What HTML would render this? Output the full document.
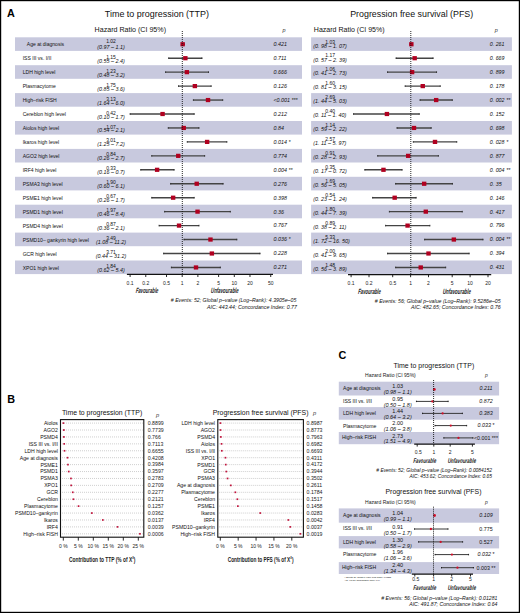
<!DOCTYPE html>
<html><head><meta charset="utf-8"><style>
html,body{margin:0;padding:0;background:#fff;}
#fig{position:relative;width:520px;height:613px;overflow:hidden;background:#fff;}
svg{position:absolute;left:0;top:0;}
text{font-family:"Liberation Sans",sans-serif;}
</style></head><body><div id="fig">
<svg width="520" height="613" viewBox="0 0 520 613">
<rect x="0" y="0" width="520" height="613" fill="#fff"/>
<text x="7.0" y="16.9" font-size="10.8" font-weight="bold" fill="#000">A</text>
<text x="7.3" y="402.5" font-size="10.8" font-weight="bold" fill="#000">B</text>
<text x="338.6" y="359.2" font-size="10.8" font-weight="bold" fill="#000">C</text>
<rect x="15.00" y="37.30" width="287.00" height="13.60" fill="#c8c9de"/>
<rect x="311.10" y="37.30" width="200.80" height="13.60" fill="#c8c9de"/>
<rect x="15.00" y="65.20" width="287.00" height="13.60" fill="#c8c9de"/>
<rect x="311.10" y="65.20" width="200.80" height="13.60" fill="#c8c9de"/>
<rect x="15.00" y="93.10" width="287.00" height="13.60" fill="#c8c9de"/>
<rect x="311.10" y="93.10" width="200.80" height="13.60" fill="#c8c9de"/>
<rect x="15.00" y="121.00" width="287.00" height="13.60" fill="#c8c9de"/>
<rect x="311.10" y="121.00" width="200.80" height="13.60" fill="#c8c9de"/>
<rect x="15.00" y="148.90" width="287.00" height="13.60" fill="#c8c9de"/>
<rect x="311.10" y="148.90" width="200.80" height="13.60" fill="#c8c9de"/>
<rect x="15.00" y="176.80" width="287.00" height="13.60" fill="#c8c9de"/>
<rect x="311.10" y="176.80" width="200.80" height="13.60" fill="#c8c9de"/>
<rect x="15.00" y="204.70" width="287.00" height="13.60" fill="#c8c9de"/>
<rect x="311.10" y="204.70" width="200.80" height="13.60" fill="#c8c9de"/>
<rect x="15.00" y="232.60" width="287.00" height="13.60" fill="#c8c9de"/>
<rect x="311.10" y="232.60" width="200.80" height="13.60" fill="#c8c9de"/>
<rect x="15.00" y="260.50" width="287.00" height="13.60" fill="#c8c9de"/>
<rect x="311.10" y="260.50" width="200.80" height="13.60" fill="#c8c9de"/>
<text x="104.8" y="16.9" font-size="9" fill="#111" textLength="104.2" lengthAdjust="spacingAndGlyphs">Time to progression (TTP)</text>
<text x="94.6" y="32.0" font-size="7.1" fill="#111" textLength="71.4" lengthAdjust="spacingAndGlyphs">Hazard Ratio (CI 95%)</text>
<text x="282.5" y="32.0" font-size="5.5" font-style="italic" fill="#333">p</text>
<text x="350.2" y="16.9" font-size="9" fill="#111" textLength="123.0" lengthAdjust="spacingAndGlyphs">Progression free survival (PFS)</text>
<text x="313.8" y="32.0" font-size="7.1" fill="#111" textLength="70.8" lengthAdjust="spacingAndGlyphs">Hazard Ratio (CI 95%)</text>
<text x="494.8" y="32.0" font-size="5.5" font-style="italic" fill="#333">p</text>
<text x="26.8" y="46.3" font-size="5.9" fill="#111" textLength="37.3" lengthAdjust="spacingAndGlyphs">Age at diagnosis</text>
<text x="111.0" y="43.0" font-size="5.4" text-anchor="middle" fill="#111" textLength="9.7" lengthAdjust="spacingAndGlyphs">1.02</text>
<text x="111.0" y="48.7" font-size="5.5" text-anchor="middle" font-style="italic" fill="#111" textLength="27.4" lengthAdjust="spacingAndGlyphs">(0.97 – 1.1)</text>
<text x="273.5" y="46.1" font-size="5.5" font-style="italic" fill="#111" textLength="13.4" lengthAdjust="spacingAndGlyphs">0.421</text>
<line x1="181.51" y1="44.25" x2="184.36" y2="44.25" stroke="#444444" stroke-width="1.4"/>
<line x1="181.51" y1="43.45" x2="181.51" y2="45.05" stroke="#222" stroke-width="0.9"/>
<line x1="184.36" y1="43.45" x2="184.36" y2="45.05" stroke="#222" stroke-width="0.9"/>
<rect x="180.45" y="42.15" width="4.40" height="4.20" fill="#b00020"/>
<text x="330.2" y="43.8" font-size="5.4" text-anchor="middle" fill="#111" textLength="9.7" lengthAdjust="spacingAndGlyphs">1.03</text>
<text x="313.2" y="47.5" font-size="5.5" font-style="italic" fill="#111" textLength="33.5" lengthAdjust="spacingAndGlyphs">(0. 98 – 1. 07)</text>
<text x="489.8" y="46.1" font-size="5.5" font-style="italic" fill="#111" textLength="14.7" lengthAdjust="spacingAndGlyphs">0. 261</text>
<line x1="410.08" y1="44.25" x2="412.35" y2="44.25" stroke="#444444" stroke-width="1.4"/>
<line x1="410.08" y1="43.45" x2="410.08" y2="45.05" stroke="#222" stroke-width="0.9"/>
<line x1="412.35" y1="43.45" x2="412.35" y2="45.05" stroke="#222" stroke-width="0.9"/>
<rect x="409.16" y="42.15" width="4.40" height="4.20" fill="#b00020"/>
<text x="22.7" y="60.2" font-size="5.9" fill="#111" textLength="28.6" lengthAdjust="spacingAndGlyphs">ISS III vs. I/II</text>
<text x="111.0" y="58.8" font-size="5.4" text-anchor="middle" fill="#111" textLength="9.7" lengthAdjust="spacingAndGlyphs">1.15</text>
<text x="111.0" y="62.6" font-size="5.5" text-anchor="middle" font-style="italic" fill="#111" textLength="27.4" lengthAdjust="spacingAndGlyphs">(0.55 – 2.4)</text>
<text x="273.5" y="60.0" font-size="5.5" font-style="italic" fill="#111" textLength="13.0" lengthAdjust="spacingAndGlyphs">0.711</text>
<line x1="168.67" y1="58.20" x2="202.01" y2="58.20" stroke="#444444" stroke-width="1.4"/>
<line x1="168.67" y1="57.40" x2="168.67" y2="59.00" stroke="#222" stroke-width="0.9"/>
<line x1="202.01" y1="57.40" x2="202.01" y2="59.00" stroke="#222" stroke-width="0.9"/>
<rect x="183.16" y="56.10" width="4.40" height="4.20" fill="#b00020"/>
<text x="330.2" y="57.2" font-size="5.4" text-anchor="middle" fill="#111" textLength="9.7" lengthAdjust="spacingAndGlyphs">1.17</text>
<text x="313.2" y="61.5" font-size="5.5" font-style="italic" fill="#111" textLength="33.5" lengthAdjust="spacingAndGlyphs">(0. 57 – 2. 39)</text>
<text x="489.8" y="60.0" font-size="5.5" font-style="italic" fill="#111" textLength="14.7" lengthAdjust="spacingAndGlyphs">0. 669</text>
<line x1="396.07" y1="58.20" x2="433.11" y2="58.20" stroke="#444444" stroke-width="1.4"/>
<line x1="396.07" y1="57.40" x2="396.07" y2="59.00" stroke="#222" stroke-width="0.9"/>
<line x1="433.11" y1="57.40" x2="433.11" y2="59.00" stroke="#222" stroke-width="0.9"/>
<rect x="412.46" y="56.10" width="4.40" height="4.20" fill="#b00020"/>
<text x="22.7" y="74.2" font-size="5.9" fill="#111" textLength="32.8" lengthAdjust="spacingAndGlyphs">LDH high level</text>
<text x="111.0" y="72.7" font-size="5.4" text-anchor="middle" fill="#111" textLength="9.7" lengthAdjust="spacingAndGlyphs">1.23</text>
<text x="111.0" y="76.6" font-size="5.5" text-anchor="middle" font-style="italic" fill="#111" textLength="27.4" lengthAdjust="spacingAndGlyphs">(0.48 – 3.2)</text>
<text x="273.5" y="74.0" font-size="5.5" font-style="italic" fill="#111" textLength="13.4" lengthAdjust="spacingAndGlyphs">0.666</text>
<line x1="165.59" y1="72.15" x2="208.52" y2="72.15" stroke="#444444" stroke-width="1.4"/>
<line x1="165.59" y1="71.35" x2="165.59" y2="72.95" stroke="#222" stroke-width="0.9"/>
<line x1="208.52" y1="71.35" x2="208.52" y2="72.95" stroke="#222" stroke-width="0.9"/>
<rect x="184.68" y="70.05" width="4.40" height="4.20" fill="#b00020"/>
<text x="330.2" y="71.2" font-size="5.4" text-anchor="middle" fill="#111" textLength="9.7" lengthAdjust="spacingAndGlyphs">1.06</text>
<text x="313.2" y="75.4" font-size="5.5" font-style="italic" fill="#111" textLength="33.5" lengthAdjust="spacingAndGlyphs">(0. 41 – 2. 73)</text>
<text x="489.8" y="74.0" font-size="5.5" font-style="italic" fill="#111" textLength="14.7" lengthAdjust="spacingAndGlyphs">0. 899</text>
<line x1="387.56" y1="72.15" x2="436.55" y2="72.15" stroke="#444444" stroke-width="1.4"/>
<line x1="387.56" y1="71.35" x2="387.56" y2="72.95" stroke="#222" stroke-width="0.9"/>
<line x1="436.55" y1="71.35" x2="436.55" y2="72.95" stroke="#222" stroke-width="0.9"/>
<rect x="409.91" y="70.05" width="4.40" height="4.20" fill="#b00020"/>
<text x="22.7" y="88.1" font-size="5.9" fill="#111" textLength="33.1" lengthAdjust="spacingAndGlyphs">Plasmacytome</text>
<text x="111.0" y="86.6" font-size="5.4" text-anchor="middle" fill="#111" textLength="9.7" lengthAdjust="spacingAndGlyphs">1.75</text>
<text x="111.0" y="90.5" font-size="5.5" text-anchor="middle" font-style="italic" fill="#111" textLength="27.4" lengthAdjust="spacingAndGlyphs">(0.85 – 3.6)</text>
<text x="273.5" y="87.9" font-size="5.5" font-style="italic" fill="#111" textLength="13.4" lengthAdjust="spacingAndGlyphs">0.126</text>
<line x1="178.52" y1="86.10" x2="211.18" y2="86.10" stroke="#444444" stroke-width="1.4"/>
<line x1="178.52" y1="85.30" x2="178.52" y2="86.90" stroke="#222" stroke-width="0.9"/>
<line x1="211.18" y1="85.30" x2="211.18" y2="86.90" stroke="#222" stroke-width="0.9"/>
<rect x="192.66" y="84.00" width="4.40" height="4.20" fill="#b00020"/>
<text x="330.2" y="85.1" font-size="5.4" text-anchor="middle" fill="#111" textLength="9.7" lengthAdjust="spacingAndGlyphs">1.60</text>
<text x="313.2" y="89.3" font-size="5.5" font-style="italic" fill="#111" textLength="33.5" lengthAdjust="spacingAndGlyphs">(0. 81 – 3. 15)</text>
<text x="489.8" y="87.9" font-size="5.5" font-style="italic" fill="#111" textLength="14.7" lengthAdjust="spacingAndGlyphs">0. 178</text>
<line x1="405.15" y1="86.10" x2="440.25" y2="86.10" stroke="#444444" stroke-width="1.4"/>
<line x1="405.15" y1="85.30" x2="405.15" y2="86.90" stroke="#222" stroke-width="0.9"/>
<line x1="440.25" y1="85.30" x2="440.25" y2="86.90" stroke="#222" stroke-width="0.9"/>
<rect x="420.55" y="84.00" width="4.40" height="4.20" fill="#b00020"/>
<text x="22.7" y="102.1" font-size="5.9" fill="#111" textLength="34.0" lengthAdjust="spacingAndGlyphs">High–risk FISH</text>
<text x="111.0" y="100.6" font-size="5.4" text-anchor="middle" fill="#111" textLength="9.7" lengthAdjust="spacingAndGlyphs">3.13</text>
<text x="111.0" y="104.5" font-size="5.5" text-anchor="middle" font-style="italic" fill="#111" textLength="27.4" lengthAdjust="spacingAndGlyphs">(1.64 – 6.0)</text>
<text x="273.5" y="101.9" font-size="5.5" font-style="italic" fill="#111" textLength="16.5" lengthAdjust="spacingAndGlyphs">&lt;0.001</text>
<text x="291.8" y="101.9" font-size="5.2" fill="#111">***</text>
<line x1="193.39" y1="100.05" x2="222.74" y2="100.05" stroke="#444444" stroke-width="1.4"/>
<line x1="193.39" y1="99.25" x2="193.39" y2="100.85" stroke="#222" stroke-width="0.9"/>
<line x1="222.74" y1="99.25" x2="222.74" y2="100.85" stroke="#222" stroke-width="0.9"/>
<rect x="205.82" y="97.95" width="4.40" height="4.20" fill="#b00020"/>
<text x="330.2" y="99.1" font-size="5.4" text-anchor="middle" fill="#111" textLength="9.7" lengthAdjust="spacingAndGlyphs">2.69</text>
<text x="313.2" y="103.3" font-size="5.5" font-style="italic" fill="#111" textLength="33.5" lengthAdjust="spacingAndGlyphs">(1. 44 – 5. 03)</text>
<text x="489.8" y="101.9" font-size="5.5" font-style="italic" fill="#111" textLength="14.7" lengthAdjust="spacingAndGlyphs">0. 002</text>
<text x="506.5" y="101.9" font-size="5.2" fill="#111">**</text>
<line x1="420.02" y1="100.05" x2="452.34" y2="100.05" stroke="#444444" stroke-width="1.4"/>
<line x1="420.02" y1="99.25" x2="420.02" y2="100.85" stroke="#222" stroke-width="0.9"/>
<line x1="452.34" y1="99.25" x2="452.34" y2="100.85" stroke="#222" stroke-width="0.9"/>
<rect x="433.97" y="97.95" width="4.40" height="4.20" fill="#b00020"/>
<text x="22.7" y="116.0" font-size="5.9" fill="#111" textLength="43.2" lengthAdjust="spacingAndGlyphs">Cereblon high level</text>
<text x="111.0" y="114.5" font-size="5.4" text-anchor="middle" fill="#111" textLength="9.7" lengthAdjust="spacingAndGlyphs">0.42</text>
<text x="111.0" y="118.5" font-size="5.5" text-anchor="middle" font-style="italic" fill="#111" textLength="27.4" lengthAdjust="spacingAndGlyphs">(0.10 – 1.7)</text>
<text x="273.5" y="115.8" font-size="5.5" font-style="italic" fill="#111" textLength="13.4" lengthAdjust="spacingAndGlyphs">0.212</text>
<line x1="130.10" y1="114.00" x2="194.21" y2="114.00" stroke="#444444" stroke-width="1.4"/>
<line x1="130.10" y1="113.20" x2="130.10" y2="114.80" stroke="#222" stroke-width="0.9"/>
<line x1="194.21" y1="113.20" x2="194.21" y2="114.80" stroke="#222" stroke-width="0.9"/>
<rect x="160.37" y="111.90" width="4.40" height="4.20" fill="#b00020"/>
<text x="330.2" y="113.0" font-size="5.4" text-anchor="middle" fill="#111" textLength="9.7" lengthAdjust="spacingAndGlyphs">0.40</text>
<text x="313.2" y="117.2" font-size="5.5" font-style="italic" fill="#111" textLength="33.1" lengthAdjust="spacingAndGlyphs">(0. 11 – 1. 40)</text>
<text x="489.8" y="115.8" font-size="5.5" font-style="italic" fill="#111" textLength="14.7" lengthAdjust="spacingAndGlyphs">0. 152</text>
<line x1="353.56" y1="114.00" x2="419.29" y2="114.00" stroke="#444444" stroke-width="1.4"/>
<line x1="353.56" y1="113.20" x2="353.56" y2="114.80" stroke="#222" stroke-width="0.9"/>
<line x1="419.29" y1="113.20" x2="419.29" y2="114.80" stroke="#222" stroke-width="0.9"/>
<rect x="384.72" y="111.90" width="4.40" height="4.20" fill="#b00020"/>
<text x="22.7" y="130.0" font-size="5.9" fill="#111" textLength="36.5" lengthAdjust="spacingAndGlyphs">Aiolos high level</text>
<text x="111.0" y="128.5" font-size="5.4" text-anchor="middle" fill="#111" textLength="9.7" lengthAdjust="spacingAndGlyphs">1.07</text>
<text x="111.0" y="132.4" font-size="5.5" text-anchor="middle" font-style="italic" fill="#111" textLength="27.4" lengthAdjust="spacingAndGlyphs">(0.54 – 2.1)</text>
<text x="273.5" y="129.8" font-size="5.5" font-style="italic" fill="#111" textLength="10.4" lengthAdjust="spacingAndGlyphs">0.84</text>
<line x1="168.26" y1="127.95" x2="198.99" y2="127.95" stroke="#444444" stroke-width="1.4"/>
<line x1="168.26" y1="127.15" x2="168.26" y2="128.75" stroke="#222" stroke-width="0.9"/>
<line x1="198.99" y1="127.15" x2="198.99" y2="128.75" stroke="#222" stroke-width="0.9"/>
<rect x="181.53" y="125.85" width="4.40" height="4.20" fill="#b00020"/>
<text x="330.2" y="127.0" font-size="5.4" text-anchor="middle" fill="#111" textLength="9.7" lengthAdjust="spacingAndGlyphs">1.14</text>
<text x="313.2" y="131.2" font-size="5.5" font-style="italic" fill="#111" textLength="33.5" lengthAdjust="spacingAndGlyphs">(0. 59 – 2. 22)</text>
<text x="489.8" y="129.8" font-size="5.5" font-style="italic" fill="#111" textLength="14.7" lengthAdjust="spacingAndGlyphs">0. 698</text>
<line x1="396.97" y1="127.95" x2="431.21" y2="127.95" stroke="#444444" stroke-width="1.4"/>
<line x1="396.97" y1="127.15" x2="396.97" y2="128.75" stroke="#222" stroke-width="0.9"/>
<line x1="431.21" y1="127.15" x2="431.21" y2="128.75" stroke="#222" stroke-width="0.9"/>
<rect x="411.79" y="125.85" width="4.40" height="4.20" fill="#b00020"/>
<text x="22.7" y="143.9" font-size="5.9" fill="#111" textLength="36.5" lengthAdjust="spacingAndGlyphs">Ikaros high level</text>
<text x="111.0" y="142.4" font-size="5.4" text-anchor="middle" fill="#111" textLength="9.7" lengthAdjust="spacingAndGlyphs">3.01</text>
<text x="111.0" y="146.3" font-size="5.5" text-anchor="middle" font-style="italic" fill="#111" textLength="27.4" lengthAdjust="spacingAndGlyphs">(1.25 – 7.2)</text>
<text x="273.5" y="143.8" font-size="5.5" font-style="italic" fill="#111" textLength="13.4" lengthAdjust="spacingAndGlyphs">0.014</text>
<text x="288.7" y="143.8" font-size="5.2" fill="#111">*</text>
<line x1="187.25" y1="141.90" x2="226.87" y2="141.90" stroke="#444444" stroke-width="1.4"/>
<line x1="187.25" y1="141.10" x2="187.25" y2="142.70" stroke="#222" stroke-width="0.9"/>
<line x1="226.87" y1="141.10" x2="226.87" y2="142.70" stroke="#222" stroke-width="0.9"/>
<rect x="204.93" y="139.80" width="4.40" height="4.20" fill="#b00020"/>
<text x="330.2" y="140.9" font-size="5.4" text-anchor="middle" fill="#111" textLength="9.7" lengthAdjust="spacingAndGlyphs">2.57</text>
<text x="313.2" y="145.1" font-size="5.5" font-style="italic" fill="#111" textLength="33.1" lengthAdjust="spacingAndGlyphs">(1. 11 – 5. 97)</text>
<text x="489.8" y="143.8" font-size="5.5" font-style="italic" fill="#111" textLength="14.7" lengthAdjust="spacingAndGlyphs">0. 028</text>
<text x="506.5" y="143.8" font-size="5.2" fill="#111">*</text>
<line x1="413.30" y1="141.90" x2="456.77" y2="141.90" stroke="#444444" stroke-width="1.4"/>
<line x1="413.30" y1="141.10" x2="413.30" y2="142.70" stroke="#222" stroke-width="0.9"/>
<line x1="456.77" y1="141.10" x2="456.77" y2="142.70" stroke="#222" stroke-width="0.9"/>
<rect x="432.79" y="139.80" width="4.40" height="4.20" fill="#b00020"/>
<text x="22.7" y="157.9" font-size="5.9" fill="#111" textLength="36.8" lengthAdjust="spacingAndGlyphs">AGO2 high level</text>
<text x="111.0" y="156.4" font-size="5.4" text-anchor="middle" fill="#111" textLength="9.7" lengthAdjust="spacingAndGlyphs">0.84</text>
<text x="111.0" y="160.3" font-size="5.5" text-anchor="middle" font-style="italic" fill="#111" textLength="27.4" lengthAdjust="spacingAndGlyphs">(0.26 – 2.7)</text>
<text x="273.5" y="157.7" font-size="5.5" font-style="italic" fill="#111" textLength="13.4" lengthAdjust="spacingAndGlyphs">0.774</text>
<line x1="151.72" y1="155.85" x2="204.67" y2="155.85" stroke="#444444" stroke-width="1.4"/>
<line x1="151.72" y1="155.05" x2="151.72" y2="156.65" stroke="#222" stroke-width="0.9"/>
<line x1="204.67" y1="155.05" x2="204.67" y2="156.65" stroke="#222" stroke-width="0.9"/>
<rect x="176.05" y="153.75" width="4.40" height="4.20" fill="#b00020"/>
<text x="330.2" y="154.9" font-size="5.4" text-anchor="middle" fill="#111" textLength="9.7" lengthAdjust="spacingAndGlyphs">0.91</text>
<text x="313.2" y="159.1" font-size="5.5" font-style="italic" fill="#111" textLength="33.5" lengthAdjust="spacingAndGlyphs">(0. 28 – 2. 93)</text>
<text x="489.8" y="157.7" font-size="5.5" font-style="italic" fill="#111" textLength="14.7" lengthAdjust="spacingAndGlyphs">0. 877</text>
<line x1="377.71" y1="155.85" x2="438.38" y2="155.85" stroke="#444444" stroke-width="1.4"/>
<line x1="377.71" y1="155.05" x2="377.71" y2="156.65" stroke="#222" stroke-width="0.9"/>
<line x1="438.38" y1="155.05" x2="438.38" y2="156.65" stroke="#222" stroke-width="0.9"/>
<rect x="405.96" y="153.75" width="4.40" height="4.20" fill="#b00020"/>
<text x="22.7" y="171.8" font-size="5.9" fill="#111" textLength="33.7" lengthAdjust="spacingAndGlyphs">IRF4 high level</text>
<text x="111.0" y="170.3" font-size="5.4" text-anchor="middle" fill="#111" textLength="9.7" lengthAdjust="spacingAndGlyphs">0.33</text>
<text x="111.0" y="174.2" font-size="5.5" text-anchor="middle" font-style="italic" fill="#111" textLength="27.4" lengthAdjust="spacingAndGlyphs">(0.16 – 0.7)</text>
<text x="273.5" y="171.7" font-size="5.5" font-style="italic" fill="#111" textLength="13.4" lengthAdjust="spacingAndGlyphs">0.004</text>
<text x="288.7" y="171.7" font-size="5.2" fill="#111">**</text>
<line x1="140.73" y1="169.80" x2="174.13" y2="169.80" stroke="#444444" stroke-width="1.4"/>
<line x1="140.73" y1="169.00" x2="140.73" y2="170.60" stroke="#222" stroke-width="0.9"/>
<line x1="174.13" y1="169.00" x2="174.13" y2="170.60" stroke="#222" stroke-width="0.9"/>
<rect x="154.91" y="167.70" width="4.40" height="4.20" fill="#b00020"/>
<text x="330.2" y="168.8" font-size="5.4" text-anchor="middle" fill="#111" textLength="9.7" lengthAdjust="spacingAndGlyphs">0.35</text>
<text x="313.2" y="173.0" font-size="5.5" font-style="italic" fill="#111" textLength="33.5" lengthAdjust="spacingAndGlyphs">(0. 17 – 0. 72)</text>
<text x="489.8" y="171.7" font-size="5.5" font-style="italic" fill="#111" textLength="14.7" lengthAdjust="spacingAndGlyphs">0. 004</text>
<text x="506.5" y="171.7" font-size="5.2" fill="#111">**</text>
<line x1="364.81" y1="169.80" x2="402.11" y2="169.80" stroke="#444444" stroke-width="1.4"/>
<line x1="364.81" y1="169.00" x2="364.81" y2="170.60" stroke="#222" stroke-width="0.9"/>
<line x1="402.11" y1="169.00" x2="402.11" y2="170.60" stroke="#222" stroke-width="0.9"/>
<rect x="381.27" y="167.70" width="4.40" height="4.20" fill="#b00020"/>
<text x="22.7" y="185.8" font-size="5.9" fill="#111" textLength="39.9" lengthAdjust="spacingAndGlyphs">PSMA3 high level</text>
<text x="111.0" y="184.3" font-size="5.4" text-anchor="middle" fill="#111" textLength="9.7" lengthAdjust="spacingAndGlyphs">1.90</text>
<text x="111.0" y="188.2" font-size="5.5" text-anchor="middle" font-style="italic" fill="#111" textLength="27.4" lengthAdjust="spacingAndGlyphs">(0.60 – 6.1)</text>
<text x="273.5" y="185.6" font-size="5.5" font-style="italic" fill="#111" textLength="13.4" lengthAdjust="spacingAndGlyphs">0.276</text>
<line x1="170.64" y1="183.75" x2="223.12" y2="183.75" stroke="#444444" stroke-width="1.4"/>
<line x1="170.64" y1="182.95" x2="170.64" y2="184.55" stroke="#222" stroke-width="0.9"/>
<line x1="223.12" y1="182.95" x2="223.12" y2="184.55" stroke="#222" stroke-width="0.9"/>
<rect x="194.52" y="181.65" width="4.40" height="4.20" fill="#b00020"/>
<text x="330.2" y="182.8" font-size="5.4" text-anchor="middle" fill="#111" textLength="9.7" lengthAdjust="spacingAndGlyphs">1.69</text>
<text x="313.2" y="187.0" font-size="5.5" font-style="italic" fill="#111" textLength="33.5" lengthAdjust="spacingAndGlyphs">(0. 56 – 5. 05)</text>
<text x="489.8" y="185.6" font-size="5.5" font-style="italic" fill="#111" textLength="11.8" lengthAdjust="spacingAndGlyphs">0. 35</text>
<line x1="395.62" y1="183.75" x2="452.45" y2="183.75" stroke="#444444" stroke-width="1.4"/>
<line x1="395.62" y1="182.95" x2="395.62" y2="184.55" stroke="#222" stroke-width="0.9"/>
<line x1="452.45" y1="182.95" x2="452.45" y2="184.55" stroke="#222" stroke-width="0.9"/>
<rect x="421.96" y="181.65" width="4.40" height="4.20" fill="#b00020"/>
<text x="22.7" y="199.8" font-size="5.9" fill="#111" textLength="39.9" lengthAdjust="spacingAndGlyphs">PSME1 high level</text>
<text x="111.0" y="198.2" font-size="5.4" text-anchor="middle" fill="#111" textLength="9.7" lengthAdjust="spacingAndGlyphs">0.67</text>
<text x="111.0" y="202.2" font-size="5.5" text-anchor="middle" font-style="italic" fill="#111" textLength="27.4" lengthAdjust="spacingAndGlyphs">(0.26 – 1.7)</text>
<text x="273.5" y="199.6" font-size="5.5" font-style="italic" fill="#111" textLength="13.4" lengthAdjust="spacingAndGlyphs">0.398</text>
<line x1="151.72" y1="197.70" x2="194.21" y2="197.70" stroke="#444444" stroke-width="1.4"/>
<line x1="151.72" y1="196.90" x2="151.72" y2="198.50" stroke="#222" stroke-width="0.9"/>
<line x1="194.21" y1="196.90" x2="194.21" y2="198.50" stroke="#222" stroke-width="0.9"/>
<rect x="170.94" y="195.60" width="4.40" height="4.20" fill="#b00020"/>
<text x="330.2" y="196.8" font-size="5.4" text-anchor="middle" fill="#111" textLength="9.7" lengthAdjust="spacingAndGlyphs">0.54</text>
<text x="313.2" y="200.9" font-size="5.5" font-style="italic" fill="#111" textLength="33.5" lengthAdjust="spacingAndGlyphs">(0. 23 – 1. 24)</text>
<text x="489.8" y="199.6" font-size="5.5" font-style="italic" fill="#111" textLength="14.7" lengthAdjust="spacingAndGlyphs">0. 146</text>
<line x1="372.62" y1="197.70" x2="416.16" y2="197.70" stroke="#444444" stroke-width="1.4"/>
<line x1="372.62" y1="196.90" x2="372.62" y2="198.50" stroke="#222" stroke-width="0.9"/>
<line x1="416.16" y1="196.90" x2="416.16" y2="198.50" stroke="#222" stroke-width="0.9"/>
<rect x="392.48" y="195.60" width="4.40" height="4.20" fill="#b00020"/>
<text x="22.7" y="213.7" font-size="5.9" fill="#111" textLength="40.1" lengthAdjust="spacingAndGlyphs">PSMD1 high level</text>
<text x="111.0" y="212.2" font-size="5.4" text-anchor="middle" fill="#111" textLength="9.7" lengthAdjust="spacingAndGlyphs">1.97</text>
<text x="111.0" y="216.1" font-size="5.5" text-anchor="middle" font-style="italic" fill="#111" textLength="27.4" lengthAdjust="spacingAndGlyphs">(0.46 – 8.4)</text>
<text x="273.5" y="213.5" font-size="5.5" font-style="italic" fill="#111" textLength="10.4" lengthAdjust="spacingAndGlyphs">0.36</text>
<line x1="164.63" y1="211.65" x2="230.35" y2="211.65" stroke="#444444" stroke-width="1.4"/>
<line x1="164.63" y1="210.85" x2="164.63" y2="212.45" stroke="#222" stroke-width="0.9"/>
<line x1="230.35" y1="210.85" x2="230.35" y2="212.45" stroke="#222" stroke-width="0.9"/>
<rect x="195.34" y="209.55" width="4.40" height="4.20" fill="#b00020"/>
<text x="330.2" y="210.7" font-size="5.4" text-anchor="middle" fill="#111" textLength="9.7" lengthAdjust="spacingAndGlyphs">1.80</text>
<text x="313.2" y="214.9" font-size="5.5" font-style="italic" fill="#111" textLength="33.5" lengthAdjust="spacingAndGlyphs">(0. 44 – 7. 39)</text>
<text x="489.8" y="213.5" font-size="5.5" font-style="italic" fill="#111" textLength="14.7" lengthAdjust="spacingAndGlyphs">0. 417</text>
<line x1="389.39" y1="211.65" x2="462.28" y2="211.65" stroke="#444444" stroke-width="1.4"/>
<line x1="389.39" y1="210.85" x2="389.39" y2="212.45" stroke="#222" stroke-width="0.9"/>
<line x1="462.28" y1="210.85" x2="462.28" y2="212.45" stroke="#222" stroke-width="0.9"/>
<rect x="423.59" y="209.55" width="4.40" height="4.20" fill="#b00020"/>
<text x="22.7" y="227.6" font-size="5.9" fill="#111" textLength="40.1" lengthAdjust="spacingAndGlyphs">PSMD4 high level</text>
<text x="111.0" y="226.1" font-size="5.4" text-anchor="middle" fill="#111" textLength="9.7" lengthAdjust="spacingAndGlyphs">0.87</text>
<text x="111.0" y="230.0" font-size="5.5" text-anchor="middle" font-style="italic" fill="#111" textLength="27.4" lengthAdjust="spacingAndGlyphs">(0.36 – 2.1)</text>
<text x="273.5" y="227.4" font-size="5.5" font-style="italic" fill="#111" textLength="13.4" lengthAdjust="spacingAndGlyphs">0.767</text>
<line x1="159.08" y1="225.60" x2="198.99" y2="225.60" stroke="#444444" stroke-width="1.4"/>
<line x1="159.08" y1="224.80" x2="159.08" y2="226.40" stroke="#222" stroke-width="0.9"/>
<line x1="198.99" y1="224.80" x2="198.99" y2="226.40" stroke="#222" stroke-width="0.9"/>
<rect x="176.85" y="223.50" width="4.40" height="4.20" fill="#b00020"/>
<text x="330.2" y="224.6" font-size="5.4" text-anchor="middle" fill="#111" textLength="9.7" lengthAdjust="spacingAndGlyphs">0.89</text>
<text x="313.2" y="228.8" font-size="5.5" font-style="italic" fill="#111" textLength="33.1" lengthAdjust="spacingAndGlyphs">(0. 38 – 2. 11)</text>
<text x="489.8" y="227.4" font-size="5.5" font-style="italic" fill="#111" textLength="14.7" lengthAdjust="spacingAndGlyphs">0. 796</text>
<line x1="385.60" y1="225.60" x2="429.89" y2="225.60" stroke="#444444" stroke-width="1.4"/>
<line x1="385.60" y1="224.80" x2="385.60" y2="226.40" stroke="#222" stroke-width="0.9"/>
<line x1="429.89" y1="224.80" x2="429.89" y2="226.40" stroke="#222" stroke-width="0.9"/>
<rect x="405.39" y="223.50" width="4.40" height="4.20" fill="#b00020"/>
<text x="22.7" y="241.6" font-size="5.9" fill="#111" textLength="66.2" lengthAdjust="spacingAndGlyphs">PSMD10– gankyrin high level</text>
<text x="111.0" y="240.1" font-size="5.4" text-anchor="middle" fill="#111" textLength="9.7" lengthAdjust="spacingAndGlyphs">3.49</text>
<text x="111.0" y="244.0" font-size="5.5" text-anchor="middle" font-style="italic" fill="#111" textLength="30.0" lengthAdjust="spacingAndGlyphs">(1.08 – 11.2)</text>
<text x="273.5" y="241.4" font-size="5.5" font-style="italic" fill="#111" textLength="13.4" lengthAdjust="spacingAndGlyphs">0.036</text>
<text x="288.7" y="241.4" font-size="5.2" fill="#111">*</text>
<line x1="183.94" y1="239.55" x2="236.86" y2="239.55" stroke="#444444" stroke-width="1.4"/>
<line x1="183.94" y1="238.75" x2="183.94" y2="240.35" stroke="#222" stroke-width="0.9"/>
<line x1="236.86" y1="238.75" x2="236.86" y2="240.35" stroke="#222" stroke-width="0.9"/>
<rect x="208.28" y="237.45" width="4.40" height="4.20" fill="#b00020"/>
<text x="330.2" y="238.6" font-size="5.4" text-anchor="middle" fill="#111" textLength="9.7" lengthAdjust="spacingAndGlyphs">5.33</text>
<text x="313.2" y="242.8" font-size="5.5" font-style="italic" fill="#111" textLength="36.5" lengthAdjust="spacingAndGlyphs">(1. 72 – 16. 50)</text>
<text x="489.8" y="241.4" font-size="5.5" font-style="italic" fill="#111" textLength="14.7" lengthAdjust="spacingAndGlyphs">0. 004</text>
<text x="506.5" y="241.4" font-size="5.2" fill="#111">**</text>
<line x1="424.61" y1="239.55" x2="483.04" y2="239.55" stroke="#444444" stroke-width="1.4"/>
<line x1="424.61" y1="238.75" x2="424.61" y2="240.35" stroke="#222" stroke-width="0.9"/>
<line x1="483.04" y1="238.75" x2="483.04" y2="240.35" stroke="#222" stroke-width="0.9"/>
<rect x="451.64" y="237.45" width="4.40" height="4.20" fill="#b00020"/>
<text x="22.7" y="255.6" font-size="5.9" fill="#111" textLength="34.0" lengthAdjust="spacingAndGlyphs">GCR high level</text>
<text x="111.0" y="254.1" font-size="5.4" text-anchor="middle" fill="#111" textLength="9.7" lengthAdjust="spacingAndGlyphs">3.71</text>
<text x="111.0" y="257.9" font-size="5.5" text-anchor="middle" font-style="italic" fill="#111" textLength="30.4" lengthAdjust="spacingAndGlyphs">(0.44 – 31.2)</text>
<text x="273.5" y="255.4" font-size="5.5" font-style="italic" fill="#111" textLength="13.4" lengthAdjust="spacingAndGlyphs">0.228</text>
<line x1="163.62" y1="253.50" x2="260.05" y2="253.50" stroke="#444444" stroke-width="1.4"/>
<line x1="163.62" y1="252.70" x2="163.62" y2="254.30" stroke="#222" stroke-width="0.9"/>
<line x1="260.05" y1="252.70" x2="260.05" y2="254.30" stroke="#222" stroke-width="0.9"/>
<rect x="209.66" y="251.40" width="4.40" height="4.20" fill="#b00020"/>
<text x="330.2" y="252.6" font-size="5.4" text-anchor="middle" fill="#111" textLength="9.7" lengthAdjust="spacingAndGlyphs">2.00</text>
<text x="313.2" y="256.8" font-size="5.5" font-style="italic" fill="#111" textLength="33.5" lengthAdjust="spacingAndGlyphs">(0. 41 – 9. 65)</text>
<text x="489.8" y="255.4" font-size="5.5" font-style="italic" fill="#111" textLength="14.7" lengthAdjust="spacingAndGlyphs">0. 394</text>
<line x1="387.56" y1="253.50" x2="469.18" y2="253.50" stroke="#444444" stroke-width="1.4"/>
<line x1="387.56" y1="252.70" x2="387.56" y2="254.30" stroke="#222" stroke-width="0.9"/>
<line x1="469.18" y1="252.70" x2="469.18" y2="254.30" stroke="#222" stroke-width="0.9"/>
<rect x="426.31" y="251.40" width="4.40" height="4.20" fill="#b00020"/>
<text x="22.7" y="269.5" font-size="5.9" fill="#111" textLength="36.2" lengthAdjust="spacingAndGlyphs">XPO1 high level</text>
<text x="111.0" y="268.0" font-size="5.4" text-anchor="middle" fill="#111" textLength="9.7" lengthAdjust="spacingAndGlyphs">1.84</text>
<text x="111.0" y="271.9" font-size="5.5" text-anchor="middle" font-style="italic" fill="#111" textLength="27.4" lengthAdjust="spacingAndGlyphs">(0.62 – 5.4)</text>
<text x="273.5" y="269.3" font-size="5.5" font-style="italic" fill="#111" textLength="13.4" lengthAdjust="spacingAndGlyphs">0.271</text>
<line x1="171.38" y1="267.45" x2="220.36" y2="267.45" stroke="#444444" stroke-width="1.4"/>
<line x1="171.38" y1="266.65" x2="171.38" y2="268.25" stroke="#222" stroke-width="0.9"/>
<line x1="220.36" y1="266.65" x2="220.36" y2="268.25" stroke="#222" stroke-width="0.9"/>
<rect x="193.80" y="265.35" width="4.40" height="4.20" fill="#b00020"/>
<text x="330.2" y="266.5" font-size="5.4" text-anchor="middle" fill="#111" textLength="9.7" lengthAdjust="spacingAndGlyphs">1.48</text>
<text x="313.2" y="270.7" font-size="5.5" font-style="italic" fill="#111" textLength="33.5" lengthAdjust="spacingAndGlyphs">(0. 56 – 3. 89)</text>
<text x="489.8" y="269.3" font-size="5.5" font-style="italic" fill="#111" textLength="14.7" lengthAdjust="spacingAndGlyphs">0. 431</text>
<line x1="395.62" y1="267.45" x2="445.70" y2="267.45" stroke="#444444" stroke-width="1.4"/>
<line x1="395.62" y1="266.65" x2="395.62" y2="268.25" stroke="#222" stroke-width="0.9"/>
<line x1="445.70" y1="266.65" x2="445.70" y2="268.25" stroke="#222" stroke-width="0.9"/>
<rect x="418.53" y="265.35" width="4.40" height="4.20" fill="#b00020"/>
<line x1="182.30" y1="31.00" x2="182.30" y2="274.00" stroke="#111" stroke-width="0.9" stroke-dasharray="1 1"/>
<line x1="410.80" y1="31.00" x2="410.80" y2="274.00" stroke="#111" stroke-width="0.9" stroke-dasharray="1 1"/>
<line x1="126.90" y1="274.40" x2="273.00" y2="274.40" stroke="#111" stroke-width="1.2"/>
<line x1="130.10" y1="274.40" x2="130.10" y2="277.00" stroke="#111" stroke-width="0.9"/>
<text x="130.1" y="284.7" font-size="5.0" text-anchor="middle" fill="#222">0.1</text>
<line x1="145.78" y1="274.40" x2="145.78" y2="277.00" stroke="#111" stroke-width="0.9"/>
<text x="145.8" y="284.7" font-size="5.0" text-anchor="middle" fill="#222">0.2</text>
<line x1="166.52" y1="274.40" x2="166.52" y2="277.00" stroke="#111" stroke-width="0.9"/>
<text x="166.5" y="284.7" font-size="5.0" text-anchor="middle" fill="#222">0.5</text>
<line x1="182.20" y1="274.40" x2="182.20" y2="277.00" stroke="#111" stroke-width="0.9"/>
<text x="182.2" y="284.7" font-size="5.0" text-anchor="middle" fill="#222">1</text>
<line x1="197.88" y1="274.40" x2="197.88" y2="277.00" stroke="#111" stroke-width="0.9"/>
<text x="197.9" y="284.7" font-size="5.0" text-anchor="middle" fill="#222">2</text>
<line x1="218.62" y1="274.40" x2="218.62" y2="277.00" stroke="#111" stroke-width="0.9"/>
<text x="218.6" y="284.7" font-size="5.0" text-anchor="middle" fill="#222">5</text>
<line x1="234.30" y1="274.40" x2="234.30" y2="277.00" stroke="#111" stroke-width="0.9"/>
<text x="234.3" y="284.7" font-size="5.0" text-anchor="middle" fill="#222">10</text>
<line x1="249.98" y1="274.40" x2="249.98" y2="277.00" stroke="#111" stroke-width="0.9"/>
<text x="250.0" y="284.7" font-size="5.0" text-anchor="middle" fill="#222">20</text>
<line x1="270.72" y1="274.40" x2="270.72" y2="277.00" stroke="#111" stroke-width="0.9"/>
<text x="270.7" y="284.7" font-size="5.0" text-anchor="middle" fill="#222">50</text>
<line x1="348.00" y1="274.60" x2="491.20" y2="274.60" stroke="#111" stroke-width="1.2"/>
<line x1="351.10" y1="274.60" x2="351.10" y2="277.20" stroke="#111" stroke-width="0.9"/>
<text x="351.1" y="284.7" font-size="5.0" text-anchor="middle" fill="#222">0.1</text>
<line x1="369.01" y1="274.60" x2="369.01" y2="277.20" stroke="#111" stroke-width="0.9"/>
<text x="369.0" y="284.7" font-size="5.0" text-anchor="middle" fill="#222">0.2</text>
<line x1="392.69" y1="274.60" x2="392.69" y2="277.20" stroke="#111" stroke-width="0.9"/>
<text x="392.7" y="284.7" font-size="5.0" text-anchor="middle" fill="#222">0.5</text>
<line x1="410.60" y1="274.60" x2="410.60" y2="277.20" stroke="#111" stroke-width="0.9"/>
<text x="410.6" y="284.7" font-size="5.0" text-anchor="middle" fill="#222">1</text>
<line x1="428.51" y1="274.60" x2="428.51" y2="277.20" stroke="#111" stroke-width="0.9"/>
<text x="428.5" y="284.7" font-size="5.0" text-anchor="middle" fill="#222">2</text>
<line x1="452.19" y1="274.60" x2="452.19" y2="277.20" stroke="#111" stroke-width="0.9"/>
<text x="452.2" y="284.7" font-size="5.0" text-anchor="middle" fill="#222">5</text>
<line x1="470.10" y1="274.60" x2="470.10" y2="277.20" stroke="#111" stroke-width="0.9"/>
<text x="470.1" y="284.7" font-size="5.0" text-anchor="middle" fill="#222">10</text>
<line x1="488.01" y1="274.60" x2="488.01" y2="277.20" stroke="#111" stroke-width="0.9"/>
<text x="488.0" y="284.7" font-size="5.0" text-anchor="middle" fill="#222">20</text>
<text transform="translate(135.40,293.40) skewX(-12)" x="0" y="0" font-size="7.6" font-weight="bold" fill="#222" textLength="22.5" lengthAdjust="spacingAndGlyphs">Favourable</text>
<text transform="translate(210.60,293.40) skewX(-12)" x="0" y="0" font-size="7.6" font-weight="bold" fill="#222" textLength="27.6" lengthAdjust="spacingAndGlyphs">Unfavourable</text>
<text transform="translate(357.70,294.20) skewX(-12)" x="0" y="0" font-size="7.6" font-weight="bold" fill="#222" textLength="22.7" lengthAdjust="spacingAndGlyphs">Favourable</text>
<text transform="translate(442.40,294.20) skewX(-12)" x="0" y="0" font-size="7.6" font-weight="bold" fill="#222" textLength="28.0" lengthAdjust="spacingAndGlyphs">Unfavourable</text>
<text x="296.3" y="301.5" font-size="5.8" text-anchor="end" font-style="italic" fill="#111" textLength="125.5" lengthAdjust="spacingAndGlyphs"># Events: 52; Global p–value (Log–Rank): 4.3905e–05</text>
<text x="297.0" y="308.6" font-size="5.8" text-anchor="end" font-style="italic" fill="#111" textLength="89.9" lengthAdjust="spacingAndGlyphs">AIC: 443.44; Concordance Index: 0.77</text>
<text x="500.6" y="302.6" font-size="5.8" text-anchor="end" font-style="italic" fill="#111" textLength="125.8" lengthAdjust="spacingAndGlyphs"># Events: 56; Global p–value (Log–Rank): 9.5286e–05</text>
<text x="500.6" y="308.6" font-size="5.8" text-anchor="end" font-style="italic" fill="#111" textLength="89.5" lengthAdjust="spacingAndGlyphs">AIC: 482.65; Concordance Index: 0.76</text>
<text x="61.9" y="414.5" font-size="7.3" fill="#111" textLength="80.3" lengthAdjust="spacingAndGlyphs">Time to progression (TTP)</text>
<text x="155.9" y="417.3" font-size="5.8" font-style="italic" fill="#444">p</text>
<line x1="62.00" y1="423.10" x2="142.80" y2="423.10" stroke="#bdbdbd" stroke-width="0.8" stroke-dasharray="0.9 1.1"/>
<rect x="62.57" y="422.25" width="1.70" height="1.70" fill="#c0143c"/>
<text x="57.9" y="425.0" font-size="5.3" text-anchor="end" fill="#111" textLength="14.0" lengthAdjust="spacingAndGlyphs">Aiolos</text>
<text x="147.8" y="424.9" font-size="5.2" fill="#222">0.8899</text>
<line x1="62.00" y1="430.02" x2="142.80" y2="430.02" stroke="#bdbdbd" stroke-width="0.8" stroke-dasharray="0.9 1.1"/>
<rect x="62.99" y="429.17" width="1.70" height="1.70" fill="#c0143c"/>
<text x="57.9" y="431.9" font-size="5.3" text-anchor="end" fill="#111" textLength="14.3" lengthAdjust="spacingAndGlyphs">AGO2</text>
<text x="147.8" y="431.8" font-size="5.2" fill="#222">0.7739</text>
<line x1="62.00" y1="436.94" x2="142.80" y2="436.94" stroke="#bdbdbd" stroke-width="0.8" stroke-dasharray="0.9 1.1"/>
<rect x="63.03" y="436.09" width="1.70" height="1.70" fill="#c0143c"/>
<text x="57.9" y="438.8" font-size="5.3" text-anchor="end" fill="#111" textLength="17.7" lengthAdjust="spacingAndGlyphs">PSMD4</text>
<text x="147.8" y="438.7" font-size="5.2" fill="#222">0.766</text>
<line x1="62.00" y1="443.86" x2="142.80" y2="443.86" stroke="#bdbdbd" stroke-width="0.8" stroke-dasharray="0.9 1.1"/>
<rect x="63.34" y="443.01" width="1.70" height="1.70" fill="#c0143c"/>
<text x="57.9" y="445.8" font-size="5.3" text-anchor="end" fill="#111" textLength="29.2" lengthAdjust="spacingAndGlyphs">ISS III vs. I/II</text>
<text x="147.8" y="445.7" font-size="5.2" fill="#222">0.7113</text>
<line x1="62.00" y1="450.78" x2="142.80" y2="450.78" stroke="#bdbdbd" stroke-width="0.8" stroke-dasharray="0.9 1.1"/>
<rect x="63.67" y="449.93" width="1.70" height="1.70" fill="#c0143c"/>
<text x="57.9" y="452.7" font-size="5.3" text-anchor="end" fill="#111" textLength="33.5" lengthAdjust="spacingAndGlyphs">LDH high level</text>
<text x="147.8" y="452.6" font-size="5.2" fill="#222">0.6655</text>
<line x1="62.00" y1="457.70" x2="142.80" y2="457.70" stroke="#bdbdbd" stroke-width="0.8" stroke-dasharray="0.9 1.1"/>
<rect x="66.67" y="456.85" width="1.70" height="1.70" fill="#c0143c"/>
<text x="57.9" y="459.6" font-size="5.3" text-anchor="end" fill="#111" textLength="38.1" lengthAdjust="spacingAndGlyphs">Age at diagnosis</text>
<text x="147.8" y="459.5" font-size="5.2" fill="#222">0.4208</text>
<line x1="62.00" y1="464.62" x2="142.80" y2="464.62" stroke="#bdbdbd" stroke-width="0.8" stroke-dasharray="0.9 1.1"/>
<rect x="67.09" y="463.77" width="1.70" height="1.70" fill="#c0143c"/>
<text x="57.9" y="466.5" font-size="5.3" text-anchor="end" fill="#111" textLength="17.5" lengthAdjust="spacingAndGlyphs">PSME1</text>
<text x="147.8" y="466.4" font-size="5.2" fill="#222">0.3984</text>
<line x1="62.00" y1="471.54" x2="142.80" y2="471.54" stroke="#bdbdbd" stroke-width="0.8" stroke-dasharray="0.9 1.1"/>
<rect x="67.91" y="470.69" width="1.70" height="1.70" fill="#c0143c"/>
<text x="57.9" y="473.4" font-size="5.3" text-anchor="end" fill="#111" textLength="17.7" lengthAdjust="spacingAndGlyphs">PSMD1</text>
<text x="147.8" y="473.3" font-size="5.2" fill="#222">0.3597</text>
<line x1="62.00" y1="478.46" x2="142.80" y2="478.46" stroke="#bdbdbd" stroke-width="0.8" stroke-dasharray="0.9 1.1"/>
<rect x="70.10" y="477.61" width="1.70" height="1.70" fill="#c0143c"/>
<text x="57.9" y="480.4" font-size="5.3" text-anchor="end" fill="#111" textLength="17.5" lengthAdjust="spacingAndGlyphs">PSMA3</text>
<text x="147.8" y="480.3" font-size="5.2" fill="#222">0.2783</text>
<line x1="62.00" y1="485.38" x2="142.80" y2="485.38" stroke="#bdbdbd" stroke-width="0.8" stroke-dasharray="0.9 1.1"/>
<rect x="70.34" y="484.53" width="1.70" height="1.70" fill="#c0143c"/>
<text x="57.9" y="487.3" font-size="5.3" text-anchor="end" fill="#111" textLength="13.7" lengthAdjust="spacingAndGlyphs">XPO1</text>
<text x="147.8" y="487.2" font-size="5.2" fill="#222">0.2709</text>
<line x1="62.00" y1="492.30" x2="142.80" y2="492.30" stroke="#bdbdbd" stroke-width="0.8" stroke-dasharray="0.9 1.1"/>
<rect x="71.92" y="491.45" width="1.70" height="1.70" fill="#c0143c"/>
<text x="57.9" y="494.2" font-size="5.3" text-anchor="end" fill="#111" textLength="11.4" lengthAdjust="spacingAndGlyphs">GCR</text>
<text x="147.8" y="494.1" font-size="5.2" fill="#222">0.2277</text>
<line x1="62.00" y1="499.22" x2="142.80" y2="499.22" stroke="#bdbdbd" stroke-width="0.8" stroke-dasharray="0.9 1.1"/>
<rect x="72.58" y="498.37" width="1.70" height="1.70" fill="#c0143c"/>
<text x="57.9" y="501.1" font-size="5.3" text-anchor="end" fill="#111" textLength="20.9" lengthAdjust="spacingAndGlyphs">Cereblon</text>
<text x="147.8" y="501.0" font-size="5.2" fill="#222">0.2121</text>
<line x1="62.00" y1="506.14" x2="142.80" y2="506.14" stroke="#bdbdbd" stroke-width="0.8" stroke-dasharray="0.9 1.1"/>
<rect x="77.71" y="505.29" width="1.70" height="1.70" fill="#c0143c"/>
<text x="57.9" y="508.0" font-size="5.3" text-anchor="end" fill="#111" textLength="33.8" lengthAdjust="spacingAndGlyphs">Plasmacytome</text>
<text x="147.8" y="507.9" font-size="5.2" fill="#222">0.1257</text>
<line x1="62.00" y1="513.06" x2="142.80" y2="513.06" stroke="#bdbdbd" stroke-width="0.8" stroke-dasharray="0.9 1.1"/>
<rect x="91.00" y="512.21" width="1.70" height="1.70" fill="#c0143c"/>
<text x="57.9" y="515.0" font-size="5.3" text-anchor="end" fill="#111" textLength="42.9" lengthAdjust="spacingAndGlyphs">PSMD10–gankyrin</text>
<text x="147.8" y="514.9" font-size="5.2" fill="#222">0.0362</text>
<line x1="62.00" y1="519.98" x2="142.80" y2="519.98" stroke="#bdbdbd" stroke-width="0.8" stroke-dasharray="0.9 1.1"/>
<rect x="101.99" y="519.13" width="1.70" height="1.70" fill="#c0143c"/>
<text x="57.9" y="521.9" font-size="5.3" text-anchor="end" fill="#111" textLength="14.0" lengthAdjust="spacingAndGlyphs">Ikaros</text>
<text x="147.8" y="521.8" font-size="5.2" fill="#222">0.0137</text>
<line x1="62.00" y1="526.90" x2="142.80" y2="526.90" stroke="#bdbdbd" stroke-width="0.8" stroke-dasharray="0.9 1.1"/>
<rect x="116.66" y="526.05" width="1.70" height="1.70" fill="#c0143c"/>
<text x="57.9" y="528.8" font-size="5.3" text-anchor="end" fill="#111" textLength="11.2" lengthAdjust="spacingAndGlyphs">IRF4</text>
<text x="147.8" y="528.7" font-size="5.2" fill="#222">0.0039</text>
<line x1="62.00" y1="533.82" x2="142.80" y2="533.82" stroke="#bdbdbd" stroke-width="0.8" stroke-dasharray="0.9 1.1"/>
<rect x="139.08" y="532.97" width="1.70" height="1.70" fill="#c0143c"/>
<text x="57.9" y="535.7" font-size="5.3" text-anchor="end" fill="#111" textLength="34.6" lengthAdjust="spacingAndGlyphs">High–risk FISH</text>
<text x="147.8" y="535.6" font-size="5.2" fill="#222">0.0006</text>
<rect x="60.50" y="419.60" width="83.30" height="117.60" fill="none" stroke="#111" stroke-width="1.1"/>
<line x1="63.30" y1="537.20" x2="63.30" y2="540.60" stroke="#111" stroke-width="0.9"/>
<text x="63.3" y="547.8" font-size="5.0" text-anchor="middle" fill="#222">0 %</text>
<line x1="78.30" y1="537.20" x2="78.30" y2="540.60" stroke="#111" stroke-width="0.9"/>
<text x="78.3" y="547.8" font-size="5.0" text-anchor="middle" fill="#222">5 %</text>
<line x1="93.30" y1="537.20" x2="93.30" y2="540.60" stroke="#111" stroke-width="0.9"/>
<text x="93.3" y="547.8" font-size="5.0" text-anchor="middle" fill="#222">10 %</text>
<line x1="108.30" y1="537.20" x2="108.30" y2="540.60" stroke="#111" stroke-width="0.9"/>
<text x="108.3" y="547.8" font-size="5.0" text-anchor="middle" fill="#222">15 %</text>
<line x1="123.30" y1="537.20" x2="123.30" y2="540.60" stroke="#111" stroke-width="0.9"/>
<text x="123.3" y="547.8" font-size="5.0" text-anchor="middle" fill="#222">20 %</text>
<line x1="138.30" y1="537.20" x2="138.30" y2="540.60" stroke="#111" stroke-width="0.9"/>
<text x="138.3" y="547.8" font-size="5.0" text-anchor="middle" fill="#222">25 %</text>
<text x="69.0" y="561.8" font-size="7.3" font-weight="bold" fill="#222" textLength="66.4" lengthAdjust="spacingAndGlyphs">Contribution to TTP (% of X²)</text>
<text x="212.7" y="414.5" font-size="7.3" fill="#111" textLength="95.8" lengthAdjust="spacingAndGlyphs">Progression free survival (PFS)</text>
<text x="312.9" y="414.7" font-size="5.8" font-style="italic" fill="#444">p</text>
<line x1="219.30" y1="423.10" x2="302.40" y2="423.10" stroke="#bdbdbd" stroke-width="0.8" stroke-dasharray="0.9 1.1"/>
<rect x="219.58" y="422.25" width="1.70" height="1.70" fill="#c0143c"/>
<text x="215.0" y="425.0" font-size="5.3" text-anchor="end" fill="#111" textLength="33.5" lengthAdjust="spacingAndGlyphs">LDH high level</text>
<text x="306.6" y="424.9" font-size="5.2" fill="#222">0.8987</text>
<line x1="219.30" y1="430.02" x2="302.40" y2="430.02" stroke="#bdbdbd" stroke-width="0.8" stroke-dasharray="0.9 1.1"/>
<rect x="219.65" y="429.17" width="1.70" height="1.70" fill="#c0143c"/>
<text x="215.0" y="431.9" font-size="5.3" text-anchor="end" fill="#111" textLength="14.3" lengthAdjust="spacingAndGlyphs">AGO2</text>
<text x="306.6" y="431.8" font-size="5.2" fill="#222">0.8773</text>
<line x1="219.30" y1="436.94" x2="302.40" y2="436.94" stroke="#bdbdbd" stroke-width="0.8" stroke-dasharray="0.9 1.1"/>
<rect x="220.00" y="436.09" width="1.70" height="1.70" fill="#c0143c"/>
<text x="215.0" y="438.8" font-size="5.3" text-anchor="end" fill="#111" textLength="17.7" lengthAdjust="spacingAndGlyphs">PSMD4</text>
<text x="306.6" y="438.7" font-size="5.2" fill="#222">0.7963</text>
<line x1="219.30" y1="443.86" x2="302.40" y2="443.86" stroke="#bdbdbd" stroke-width="0.8" stroke-dasharray="0.9 1.1"/>
<rect x="220.70" y="443.01" width="1.70" height="1.70" fill="#c0143c"/>
<text x="215.0" y="445.8" font-size="5.3" text-anchor="end" fill="#111" textLength="14.0" lengthAdjust="spacingAndGlyphs">Aiolos</text>
<text x="306.6" y="445.7" font-size="5.2" fill="#222">0.6982</text>
<line x1="219.30" y1="450.78" x2="302.40" y2="450.78" stroke="#bdbdbd" stroke-width="0.8" stroke-dasharray="0.9 1.1"/>
<rect x="220.96" y="449.93" width="1.70" height="1.70" fill="#c0143c"/>
<text x="215.0" y="452.7" font-size="5.3" text-anchor="end" fill="#111" textLength="29.2" lengthAdjust="spacingAndGlyphs">ISS III vs. I/II</text>
<text x="306.6" y="452.6" font-size="5.2" fill="#222">0.6693</text>
<line x1="219.30" y1="457.70" x2="302.40" y2="457.70" stroke="#bdbdbd" stroke-width="0.8" stroke-dasharray="0.9 1.1"/>
<rect x="224.60" y="456.85" width="1.70" height="1.70" fill="#c0143c"/>
<text x="215.0" y="459.6" font-size="5.3" text-anchor="end" fill="#111" textLength="13.7" lengthAdjust="spacingAndGlyphs">XPO1</text>
<text x="306.6" y="459.5" font-size="5.2" fill="#222">0.4311</text>
<line x1="219.30" y1="464.62" x2="302.40" y2="464.62" stroke="#bdbdbd" stroke-width="0.8" stroke-dasharray="0.9 1.1"/>
<rect x="224.92" y="463.77" width="1.70" height="1.70" fill="#c0143c"/>
<text x="215.0" y="466.5" font-size="5.3" text-anchor="end" fill="#111" textLength="17.7" lengthAdjust="spacingAndGlyphs">PSMD1</text>
<text x="306.6" y="466.4" font-size="5.2" fill="#222">0.4172</text>
<line x1="219.30" y1="471.54" x2="302.40" y2="471.54" stroke="#bdbdbd" stroke-width="0.8" stroke-dasharray="0.9 1.1"/>
<rect x="225.47" y="470.69" width="1.70" height="1.70" fill="#c0143c"/>
<text x="215.0" y="473.4" font-size="5.3" text-anchor="end" fill="#111" textLength="11.4" lengthAdjust="spacingAndGlyphs">GCR</text>
<text x="306.6" y="473.3" font-size="5.2" fill="#222">0.3944</text>
<line x1="219.30" y1="478.46" x2="302.40" y2="478.46" stroke="#bdbdbd" stroke-width="0.8" stroke-dasharray="0.9 1.1"/>
<rect x="226.70" y="477.61" width="1.70" height="1.70" fill="#c0143c"/>
<text x="215.0" y="480.4" font-size="5.3" text-anchor="end" fill="#111" textLength="17.5" lengthAdjust="spacingAndGlyphs">PSMA3</text>
<text x="306.6" y="480.3" font-size="5.2" fill="#222">0.3502</text>
<line x1="219.30" y1="485.38" x2="302.40" y2="485.38" stroke="#bdbdbd" stroke-width="0.8" stroke-dasharray="0.9 1.1"/>
<rect x="229.94" y="484.53" width="1.70" height="1.70" fill="#c0143c"/>
<text x="215.0" y="487.3" font-size="5.3" text-anchor="end" fill="#111" textLength="38.1" lengthAdjust="spacingAndGlyphs">Age at diagnosis</text>
<text x="306.6" y="487.2" font-size="5.2" fill="#222">0.2611</text>
<line x1="219.30" y1="492.30" x2="302.40" y2="492.30" stroke="#bdbdbd" stroke-width="0.8" stroke-dasharray="0.9 1.1"/>
<rect x="234.49" y="491.45" width="1.70" height="1.70" fill="#c0143c"/>
<text x="215.0" y="494.2" font-size="5.3" text-anchor="end" fill="#111" textLength="33.8" lengthAdjust="spacingAndGlyphs">Plasmacytome</text>
<text x="306.6" y="494.1" font-size="5.2" fill="#222">0.1784</text>
<line x1="219.30" y1="499.22" x2="302.40" y2="499.22" stroke="#bdbdbd" stroke-width="0.8" stroke-dasharray="0.9 1.1"/>
<rect x="236.51" y="498.37" width="1.70" height="1.70" fill="#c0143c"/>
<text x="215.0" y="501.1" font-size="5.3" text-anchor="end" fill="#111" textLength="20.9" lengthAdjust="spacingAndGlyphs">Cereblon</text>
<text x="306.6" y="501.0" font-size="5.2" fill="#222">0.1517</text>
<line x1="219.30" y1="506.14" x2="302.40" y2="506.14" stroke="#bdbdbd" stroke-width="0.8" stroke-dasharray="0.9 1.1"/>
<rect x="237.02" y="505.29" width="1.70" height="1.70" fill="#c0143c"/>
<text x="215.0" y="508.0" font-size="5.3" text-anchor="end" fill="#111" textLength="17.5" lengthAdjust="spacingAndGlyphs">PSME1</text>
<text x="306.6" y="507.9" font-size="5.2" fill="#222">0.1458</text>
<line x1="219.30" y1="513.06" x2="302.40" y2="513.06" stroke="#bdbdbd" stroke-width="0.8" stroke-dasharray="0.9 1.1"/>
<rect x="259.39" y="512.21" width="1.70" height="1.70" fill="#c0143c"/>
<text x="215.0" y="515.0" font-size="5.3" text-anchor="end" fill="#111" textLength="14.0" lengthAdjust="spacingAndGlyphs">Ikaros</text>
<text x="306.6" y="514.9" font-size="5.2" fill="#222">0.0283</text>
<line x1="219.30" y1="519.98" x2="302.40" y2="519.98" stroke="#bdbdbd" stroke-width="0.8" stroke-dasharray="0.9 1.1"/>
<rect x="287.50" y="519.13" width="1.70" height="1.70" fill="#c0143c"/>
<text x="215.0" y="521.9" font-size="5.3" text-anchor="end" fill="#111" textLength="11.2" lengthAdjust="spacingAndGlyphs">IRF4</text>
<text x="306.6" y="521.8" font-size="5.2" fill="#222">0.0042</text>
<line x1="219.30" y1="526.90" x2="302.40" y2="526.90" stroke="#bdbdbd" stroke-width="0.8" stroke-dasharray="0.9 1.1"/>
<rect x="289.41" y="526.05" width="1.70" height="1.70" fill="#c0143c"/>
<text x="215.0" y="528.8" font-size="5.3" text-anchor="end" fill="#111" textLength="42.9" lengthAdjust="spacingAndGlyphs">PSMD10–gankyrin</text>
<text x="306.6" y="528.7" font-size="5.2" fill="#222">0.0037</text>
<line x1="219.30" y1="533.82" x2="302.40" y2="533.82" stroke="#bdbdbd" stroke-width="0.8" stroke-dasharray="0.9 1.1"/>
<rect x="299.52" y="532.97" width="1.70" height="1.70" fill="#c0143c"/>
<text x="215.0" y="535.7" font-size="5.3" text-anchor="end" fill="#111" textLength="34.6" lengthAdjust="spacingAndGlyphs">High–risk FISH</text>
<text x="306.6" y="535.6" font-size="5.2" fill="#222">0.0019</text>
<rect x="217.80" y="419.60" width="85.60" height="117.60" fill="none" stroke="#111" stroke-width="1.1"/>
<line x1="220.30" y1="537.20" x2="220.30" y2="540.60" stroke="#111" stroke-width="0.9"/>
<text x="220.3" y="547.8" font-size="5.0" text-anchor="middle" fill="#222">0 %</text>
<line x1="238.18" y1="537.20" x2="238.18" y2="540.60" stroke="#111" stroke-width="0.9"/>
<text x="238.2" y="547.8" font-size="5.0" text-anchor="middle" fill="#222">5 %</text>
<line x1="256.05" y1="537.20" x2="256.05" y2="540.60" stroke="#111" stroke-width="0.9"/>
<text x="256.1" y="547.8" font-size="5.0" text-anchor="middle" fill="#222">10 %</text>
<line x1="273.93" y1="537.20" x2="273.93" y2="540.60" stroke="#111" stroke-width="0.9"/>
<text x="273.9" y="547.8" font-size="5.0" text-anchor="middle" fill="#222">15 %</text>
<line x1="291.80" y1="537.20" x2="291.80" y2="540.60" stroke="#111" stroke-width="0.9"/>
<text x="291.8" y="547.8" font-size="5.0" text-anchor="middle" fill="#222">20 %</text>
<text x="227.7" y="561.8" font-size="7.3" font-weight="bold" fill="#222" textLength="65.8" lengthAdjust="spacingAndGlyphs">Contribution to PFS (% of X²)</text>
<text x="393.5" y="368.4" font-size="7" fill="#111" textLength="80.7" lengthAdjust="spacingAndGlyphs">Time to progression (TTP)</text>
<text x="365.0" y="377.4" font-size="5.0" fill="#222" textLength="50.8" lengthAdjust="spacingAndGlyphs">Hazard Ratio (CI 95%)</text>
<text x="485.0" y="376.8" font-size="5.0" font-style="italic" fill="#333">p</text>
<rect x="338.80" y="381.70" width="160.30" height="13.80" fill="#c8c9de"/>
<rect x="338.80" y="407.10" width="160.30" height="12.60" fill="#c8c9de"/>
<rect x="338.80" y="432.00" width="160.30" height="12.20" fill="#c8c9de"/>
<text x="343.0" y="390.2" font-size="6.0" fill="#111" textLength="37.6" lengthAdjust="spacingAndGlyphs">Age at diagnosis</text>
<text x="397.7" y="388.3" font-size="5.5" text-anchor="middle" fill="#111" textLength="10.7" lengthAdjust="spacingAndGlyphs">1.03</text>
<text x="397.7" y="393.8" font-size="5.6" text-anchor="middle" font-style="italic" fill="#111" textLength="28.1" lengthAdjust="spacingAndGlyphs">(0.98 – 1.1)</text>
<text x="486.0" y="390.4" font-size="5.4" text-anchor="middle" font-style="italic" fill="#111" textLength="12.9" lengthAdjust="spacingAndGlyphs">0.211</text>
<circle cx="434.33" cy="389.40" r="1.4" fill="#d0102a"/>
<text x="343.0" y="402.6" font-size="6.0" fill="#111" textLength="28.8" lengthAdjust="spacingAndGlyphs">ISS III vs. I/II</text>
<text x="397.7" y="401.1" font-size="5.5" text-anchor="middle" fill="#111" textLength="10.7" lengthAdjust="spacingAndGlyphs">0.95</text>
<text x="397.7" y="406.6" font-size="5.6" text-anchor="middle" font-style="italic" fill="#111" textLength="28.1" lengthAdjust="spacingAndGlyphs">(0.50 – 1.8)</text>
<text x="486.0" y="403.2" font-size="5.4" text-anchor="middle" font-style="italic" fill="#111" textLength="13.3" lengthAdjust="spacingAndGlyphs">0.872</text>
<line x1="416.44" y1="401.40" x2="448.15" y2="401.40" stroke="#383838" stroke-width="1.0"/>
<line x1="416.44" y1="400.70" x2="416.44" y2="402.10" stroke="#111" stroke-width="0.9"/>
<line x1="448.15" y1="400.70" x2="448.15" y2="402.10" stroke="#111" stroke-width="0.9"/>
<circle cx="432.33" cy="401.40" r="1.15" fill="#d0102a"/>
<text x="343.0" y="414.6" font-size="6.0" fill="#111" textLength="33.0" lengthAdjust="spacingAndGlyphs">LDH high level</text>
<text x="397.7" y="413.1" font-size="5.5" text-anchor="middle" fill="#111" textLength="10.7" lengthAdjust="spacingAndGlyphs">1.44</text>
<text x="397.7" y="418.6" font-size="5.6" text-anchor="middle" font-style="italic" fill="#111" textLength="28.1" lengthAdjust="spacingAndGlyphs">(0.64 – 3.2)</text>
<text x="486.0" y="415.2" font-size="5.4" text-anchor="middle" font-style="italic" fill="#111" textLength="13.3" lengthAdjust="spacingAndGlyphs">0.383</text>
<line x1="422.55" y1="413.40" x2="462.39" y2="413.40" stroke="#383838" stroke-width="1.0"/>
<line x1="422.55" y1="412.70" x2="422.55" y2="414.10" stroke="#111" stroke-width="0.9"/>
<line x1="462.39" y1="412.70" x2="462.39" y2="414.10" stroke="#111" stroke-width="0.9"/>
<circle cx="442.63" cy="413.40" r="1.15" fill="#d0102a"/>
<text x="343.0" y="427.6" font-size="6.0" fill="#111" textLength="33.3" lengthAdjust="spacingAndGlyphs">Plasmacytome</text>
<text x="397.7" y="425.3" font-size="5.5" text-anchor="middle" fill="#111" textLength="10.7" lengthAdjust="spacingAndGlyphs">2.00</text>
<text x="397.7" y="430.8" font-size="5.6" text-anchor="middle" font-style="italic" fill="#111" textLength="28.1" lengthAdjust="spacingAndGlyphs">(1.06 – 3.8)</text>
<text x="486.0" y="427.4" font-size="5.4" text-anchor="middle" font-style="italic" fill="#111" textLength="16.8" lengthAdjust="spacingAndGlyphs">0.033 *</text>
<line x1="435.04" y1="425.60" x2="466.65" y2="425.60" stroke="#383838" stroke-width="1.0"/>
<line x1="435.04" y1="424.90" x2="435.04" y2="426.30" stroke="#111" stroke-width="0.9"/>
<line x1="466.65" y1="424.90" x2="466.65" y2="426.30" stroke="#111" stroke-width="0.9"/>
<circle cx="450.76" cy="425.60" r="1.15" fill="#d0102a"/>
<text x="341.9" y="439.4" font-size="6.0" fill="#111" textLength="34.2" lengthAdjust="spacingAndGlyphs">High–risk FISH</text>
<text x="397.7" y="437.6" font-size="5.5" text-anchor="middle" fill="#111" textLength="10.7" lengthAdjust="spacingAndGlyphs">2.73</text>
<text x="397.7" y="443.1" font-size="5.6" text-anchor="middle" font-style="italic" fill="#111" textLength="28.1" lengthAdjust="spacingAndGlyphs">(1.51 – 4.9)</text>
<text x="486.0" y="439.7" font-size="5.4" text-anchor="middle" fill="#111" textLength="24.0" lengthAdjust="spacingAndGlyphs">&lt;0.001 ***</text>
<line x1="443.80" y1="437.90" x2="472.94" y2="437.90" stroke="#383838" stroke-width="1.0"/>
<line x1="443.80" y1="437.20" x2="443.80" y2="438.60" stroke="#111" stroke-width="0.9"/>
<line x1="472.94" y1="437.20" x2="472.94" y2="438.60" stroke="#111" stroke-width="0.9"/>
<circle cx="458.46" cy="437.90" r="1.15" fill="#d0102a"/>
<line x1="433.60" y1="380.00" x2="433.60" y2="444.20" stroke="#111" stroke-width="0.9" stroke-dasharray="1 1"/>
<line x1="414.20" y1="444.20" x2="474.90" y2="444.20" stroke="#111" stroke-width="1.2"/>
<line x1="417.20" y1="444.20" x2="417.20" y2="446.60" stroke="#111" stroke-width="0.9"/>
<text x="418.2" y="454.3" font-size="5.0" text-anchor="middle" fill="#222">0.5</text>
<line x1="433.80" y1="444.20" x2="433.80" y2="446.60" stroke="#111" stroke-width="0.9"/>
<text x="433.8" y="454.3" font-size="5.0" text-anchor="middle" fill="#222">1</text>
<line x1="450.20" y1="444.20" x2="450.20" y2="446.60" stroke="#111" stroke-width="0.9"/>
<text x="450.2" y="454.3" font-size="5.0" text-anchor="middle" fill="#222">2</text>
<line x1="472.40" y1="444.20" x2="472.40" y2="446.60" stroke="#111" stroke-width="0.9"/>
<text x="472.4" y="454.3" font-size="5.0" text-anchor="middle" fill="#222">5</text>
<text transform="translate(412.90,463.00) skewX(-12)" x="0" y="0" font-size="6.8" font-weight="bold" fill="#222" textLength="23.0" lengthAdjust="spacingAndGlyphs">Favourable</text>
<text transform="translate(447.40,463.00) skewX(-12)" x="0" y="0" font-size="6.8" font-weight="bold" fill="#222" textLength="28.3" lengthAdjust="spacingAndGlyphs">Unfavourable</text>
<text x="492.0" y="471.7" font-size="5.5" text-anchor="end" font-style="italic" fill="#111" textLength="115.7" lengthAdjust="spacingAndGlyphs"># Events: 52; Global p–value (Log–Rank): 0.0084152</text>
<text x="492.0" y="478.0" font-size="5.5" text-anchor="end" font-style="italic" fill="#111" textLength="82.5" lengthAdjust="spacingAndGlyphs">AIC: 453.62; Concordance Index: 0.65</text>
<text x="385.5" y="494.0" font-size="7" fill="#111" textLength="96.0" lengthAdjust="spacingAndGlyphs">Progression free survival (PFS)</text>
<text x="365.0" y="503.5" font-size="5.0" fill="#222" textLength="50.8" lengthAdjust="spacingAndGlyphs">Hazard Ratio (CI 95%)</text>
<text x="485.0" y="504.3" font-size="5.0" font-style="italic" fill="#333">p</text>
<rect x="338.80" y="508.40" width="160.30" height="14.30" fill="#c8c9de"/>
<rect x="338.80" y="536.10" width="160.30" height="12.30" fill="#c8c9de"/>
<rect x="338.80" y="562.10" width="160.30" height="11.90" fill="#c8c9de"/>
<text x="343.0" y="517.2" font-size="6.0" fill="#111" textLength="37.6" lengthAdjust="spacingAndGlyphs">Age at diagnosis</text>
<text x="397.7" y="515.2" font-size="5.5" text-anchor="middle" fill="#111" textLength="10.7" lengthAdjust="spacingAndGlyphs">1.04</text>
<text x="397.7" y="521.2" font-size="5.6" text-anchor="middle" font-style="italic" fill="#111" textLength="28.1" lengthAdjust="spacingAndGlyphs">(0.99 – 1.1)</text>
<text x="486.0" y="517.3" font-size="5.4" text-anchor="middle" font-style="italic" fill="#111" textLength="13.3" lengthAdjust="spacingAndGlyphs">0.109</text>
<circle cx="434.57" cy="515.50" r="1.4" fill="#d0102a"/>
<text x="343.0" y="530.1" font-size="6.0" fill="#111" textLength="28.8" lengthAdjust="spacingAndGlyphs">ISS III vs. I/II</text>
<text x="397.7" y="528.7" font-size="5.5" text-anchor="middle" fill="#111" textLength="10.7" lengthAdjust="spacingAndGlyphs">0.91</text>
<text x="397.7" y="534.7" font-size="5.6" text-anchor="middle" font-style="italic" fill="#111" textLength="28.1" lengthAdjust="spacingAndGlyphs">(0.50 – 1.7)</text>
<text x="486.0" y="530.8" font-size="5.4" text-anchor="middle" fill="#111" textLength="13.3" lengthAdjust="spacingAndGlyphs">0.775</text>
<line x1="414.54" y1="529.00" x2="448.02" y2="529.00" stroke="#383838" stroke-width="1.0"/>
<line x1="414.54" y1="528.30" x2="414.54" y2="529.70" stroke="#111" stroke-width="0.9"/>
<line x1="448.02" y1="528.30" x2="448.02" y2="529.70" stroke="#111" stroke-width="0.9"/>
<circle cx="430.92" cy="529.00" r="1.15" fill="#d0102a"/>
<text x="343.0" y="543.6" font-size="6.0" fill="#111" textLength="33.0" lengthAdjust="spacingAndGlyphs">LDH high level</text>
<text x="397.7" y="541.6" font-size="5.5" text-anchor="middle" fill="#111" textLength="10.7" lengthAdjust="spacingAndGlyphs">1.30</text>
<text x="397.7" y="547.6" font-size="5.6" text-anchor="middle" font-style="italic" fill="#111" textLength="28.1" lengthAdjust="spacingAndGlyphs">(0.58 – 2.9)</text>
<text x="486.0" y="543.7" font-size="5.4" text-anchor="middle" fill="#111" textLength="13.3" lengthAdjust="spacingAndGlyphs">0.527</text>
<line x1="418.60" y1="541.90" x2="462.63" y2="541.90" stroke="#383838" stroke-width="1.0"/>
<line x1="418.60" y1="541.20" x2="418.60" y2="542.60" stroke="#111" stroke-width="0.9"/>
<line x1="462.63" y1="541.20" x2="462.63" y2="542.60" stroke="#111" stroke-width="0.9"/>
<circle cx="440.68" cy="541.90" r="1.15" fill="#d0102a"/>
<text x="343.0" y="556.4" font-size="6.0" fill="#111" textLength="33.3" lengthAdjust="spacingAndGlyphs">Plasmacytome</text>
<text x="397.7" y="554.3" font-size="5.5" text-anchor="middle" fill="#111" textLength="10.7" lengthAdjust="spacingAndGlyphs">1.96</text>
<text x="397.7" y="560.3" font-size="5.6" text-anchor="middle" font-style="italic" fill="#111" textLength="28.1" lengthAdjust="spacingAndGlyphs">(1.06 – 3.6)</text>
<text x="486.0" y="556.4" font-size="5.4" text-anchor="middle" font-style="italic" fill="#111" textLength="16.8" lengthAdjust="spacingAndGlyphs">0.032 *</text>
<line x1="435.09" y1="554.60" x2="468.55" y2="554.60" stroke="#383838" stroke-width="1.0"/>
<line x1="435.09" y1="553.90" x2="435.09" y2="555.30" stroke="#111" stroke-width="0.9"/>
<line x1="468.55" y1="553.90" x2="468.55" y2="555.30" stroke="#111" stroke-width="0.9"/>
<circle cx="451.91" cy="554.60" r="1.15" fill="#d0102a"/>
<text x="341.9" y="569.4" font-size="6.0" fill="#111" textLength="34.2" lengthAdjust="spacingAndGlyphs">High–risk FISH</text>
<text x="397.7" y="567.4" font-size="5.5" text-anchor="middle" fill="#111" textLength="10.7" lengthAdjust="spacingAndGlyphs">2.40</text>
<text x="397.7" y="573.4" font-size="5.6" text-anchor="middle" font-style="italic" fill="#111" textLength="28.1" lengthAdjust="spacingAndGlyphs">(1.34 – 4.3)</text>
<text x="486.0" y="569.5" font-size="5.4" text-anchor="middle" fill="#111" textLength="18.9" lengthAdjust="spacingAndGlyphs">0.003 **</text>
<line x1="441.51" y1="567.70" x2="473.41" y2="567.70" stroke="#383838" stroke-width="1.0"/>
<line x1="441.51" y1="567.00" x2="441.51" y2="568.40" stroke="#111" stroke-width="0.9"/>
<line x1="473.41" y1="567.00" x2="473.41" y2="568.40" stroke="#111" stroke-width="0.9"/>
<circle cx="457.45" cy="567.70" r="1.15" fill="#d0102a"/>
<line x1="433.50" y1="506.70" x2="433.50" y2="574.10" stroke="#111" stroke-width="0.9" stroke-dasharray="1 1"/>
<line x1="411.80" y1="574.10" x2="473.00" y2="574.10" stroke="#111" stroke-width="1.2"/>
<line x1="414.80" y1="574.10" x2="414.80" y2="576.50" stroke="#111" stroke-width="0.9"/>
<text x="415.8" y="581.3" font-size="5.0" text-anchor="middle" fill="#222">0.5</text>
<line x1="433.60" y1="574.10" x2="433.60" y2="576.50" stroke="#111" stroke-width="0.9"/>
<text x="433.6" y="581.3" font-size="5.0" text-anchor="middle" fill="#222">1</text>
<line x1="451.70" y1="574.10" x2="451.70" y2="576.50" stroke="#111" stroke-width="0.9"/>
<text x="451.7" y="581.3" font-size="5.0" text-anchor="middle" fill="#222">2</text>
<line x1="470.50" y1="574.10" x2="470.50" y2="576.50" stroke="#111" stroke-width="0.9"/>
<text x="470.5" y="581.3" font-size="5.0" text-anchor="middle" fill="#222">5</text>
<text transform="translate(412.90,589.50) skewX(-12)" x="0" y="0" font-size="6.8" font-weight="bold" fill="#222" textLength="23.0" lengthAdjust="spacingAndGlyphs">Favourable</text>
<text transform="translate(447.40,589.50) skewX(-12)" x="0" y="0" font-size="6.8" font-weight="bold" fill="#222" textLength="28.3" lengthAdjust="spacingAndGlyphs">Unfavourable</text>
<text x="497.5" y="599.8" font-size="5.5" text-anchor="end" font-style="italic" fill="#111" textLength="116.3" lengthAdjust="spacingAndGlyphs"># Events: 56; Global p–value (Log–Rank): 0.01281</text>
<text x="497.5" y="605.8" font-size="5.5" text-anchor="end" font-style="italic" fill="#111" textLength="88.3" lengthAdjust="spacingAndGlyphs">AIC: 491.87; Concordance Index: 0.64</text>
<text x="344.4" y="577.9" font-size="2.3" fill="#000" textLength="46.9" lengthAdjust="spacingAndGlyphs"># Events: 56; Global p–value (Log–Rank): 0.01281</text>
<text x="344.4" y="580.8" font-size="2.3" fill="#000" textLength="35.4" lengthAdjust="spacingAndGlyphs">AIC: 491.87; Concordance Index: 0.64</text>
<rect x="0.6" y="0.6" width="518.8" height="611.8" fill="none" stroke="#000" stroke-width="1.2"/>
</svg></div></body></html>
